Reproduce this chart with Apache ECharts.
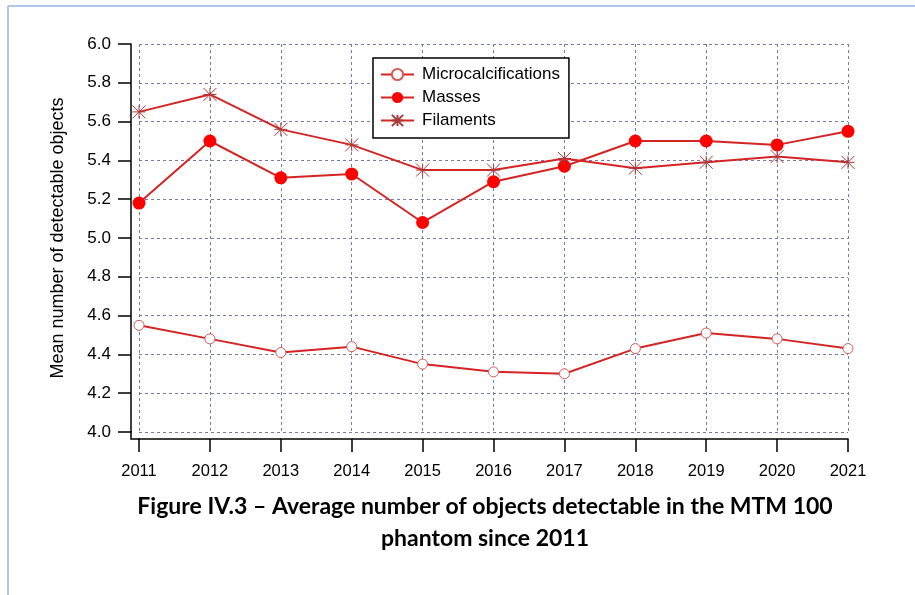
<!DOCTYPE html>
<html>
<head>
<meta charset="utf-8">
<script src="https://cdn.jsdelivr.net/npm/echarts@6/dist/echarts.min.js"></script>
<style>
html,body{margin:0;padding:0;background:#fff;}
#chart{width:915px;height:595px;}
</style>
</head>
<body>
<div id="chart"></div>
<script>
var years = ['2011','2012','2013','2014','2015','2016','2017','2018','2019','2020','2021'];
var microcalcifications = [4.55, 4.48, 4.41, 4.44, 4.35, 4.31, 4.30, 4.43, 4.51, 4.48, 4.43];
var masses = [5.18, 5.50, 5.31, 5.33, 5.08, 5.29, 5.37, 5.50, 5.50, 5.48, 5.55];
var filaments = [5.65, 5.74, 5.56, 5.48, 5.35, 5.35, 5.41, 5.36, 5.39, 5.42, 5.39];
var yTitle = 'Mean number of detectable objects';
var captionLine1 = 'Figure IV.3 \u2013 Average number of objects detectable in the MTM 100';
var captionLine2 = 'phantom since 2011';

var FONT = '"Liberation Sans", Arial, sans-serif';
var CAPFONT = 'bold 23px Lato, "Open Sans", sans-serif';
var LINE = '#d42424';
var asterisk = 'path://M0,0 L10,10 M10,0 L0,10 M5,0 L5,10 M0,5 L10,5';

var chart = echarts.init(document.getElementById('chart'), null, {renderer: 'canvas'});
chart.setOption({
  animation: false,
  backgroundColor: '#fff',
  grid: {left: 139, right: 67, top: 44, bottom: 163},
  legend: {
    orient: 'vertical', left: 373, top: 58,
    padding: [8, 9, 9, 7], itemGap: 6, itemWidth: 33, itemHeight: 14,
    borderColor: '#000', borderWidth: 1.5, backgroundColor: '#fff',
    textStyle: {fontFamily: FONT, fontSize: 17, color: '#000', lineHeight: 14, padding: [0,0,0,3]},
    data: ['Microcalcifications', 'Masses', 'Filaments']
  },
  xAxis: {
    type: 'category', data: years, boundaryGap: false, offset: 7,
    axisLine: {lineStyle: {color: '#000', width: 1.5}},
    axisTick: {length: 13, lineStyle: {color: '#000', width: 1.5}},
    axisLabel: {color: '#000', fontFamily: FONT, fontSize: 16.5, margin: 24},
    splitLine: {show: true, lineStyle: {color: '#7878b0', type: [3, 3], width: 1}}
  },
  yAxis: {
    type: 'value', min: 4, max: 6, interval: 0.2, offset: 8,
    name: yTitle, nameLocation: 'middle', nameGap: 64,
    nameTextStyle: {color: '#000', fontFamily: FONT, fontSize: 18},
    axisLine: {show: true, lineStyle: {color: '#000', width: 1.5}},
    axisTick: {show: true, length: 13, lineStyle: {color: '#000', width: 1.5}},
    axisLabel: {color: '#000', fontFamily: FONT, fontSize: 17, margin: 20,
      formatter: function (v) { return v.toFixed(1); }},
    splitLine: {show: true, lineStyle: {color: '#7878b0', type: [3, 3], width: 1}}
  },
  series: [
    {name: 'Microcalcifications', type: 'line', data: microcalcifications,
     symbol: 'circle', symbolSize: 10,
     lineStyle: {color: LINE, width: 2},
     itemStyle: {color: '#fff', borderColor: '#d85858', borderWidth: 1}},
    {name: 'Masses', type: 'line', data: masses,
     symbol: 'circle', symbolSize: 13,
     lineStyle: {color: LINE, width: 2},
     itemStyle: {color: '#f00', borderColor: '#f00', borderWidth: 0}},
    {name: 'Filaments', type: 'line', data: filaments,
     symbol: asterisk, symbolSize: 13,
     lineStyle: {color: LINE, width: 2},
     itemStyle: {color: 'rgba(0,0,0,0)', borderColor: '#a83a3a', borderWidth: 1}}
  ],
  graphic: [
    {type: 'line', shape: {x1: 8, y1: 6, x2: 915, y2: 6}, style: {stroke: '#b4c6e7', lineWidth: 2}},
    {type: 'line', shape: {x1: 8, y1: 6, x2: 8, y2: 595}, style: {stroke: '#b4c6e7', lineWidth: 2}},
    {type: 'polyline', shape: {points: [[131, 431], [131, 439], [140, 439]]}, style: {stroke: '#000', lineWidth: 1.5, fill: null}},
    {type: 'text', x: 485, y: 507, style: {text: captionLine1, font: CAPFONT, fill: '#000', textAlign: 'center', textVerticalAlign: 'middle'}},
    {type: 'text', x: 485, y: 539, style: {text: captionLine2, font: CAPFONT, fill: '#000', textAlign: 'center', textVerticalAlign: 'middle'}}
  ]
});
</script>
</body>
</html>
